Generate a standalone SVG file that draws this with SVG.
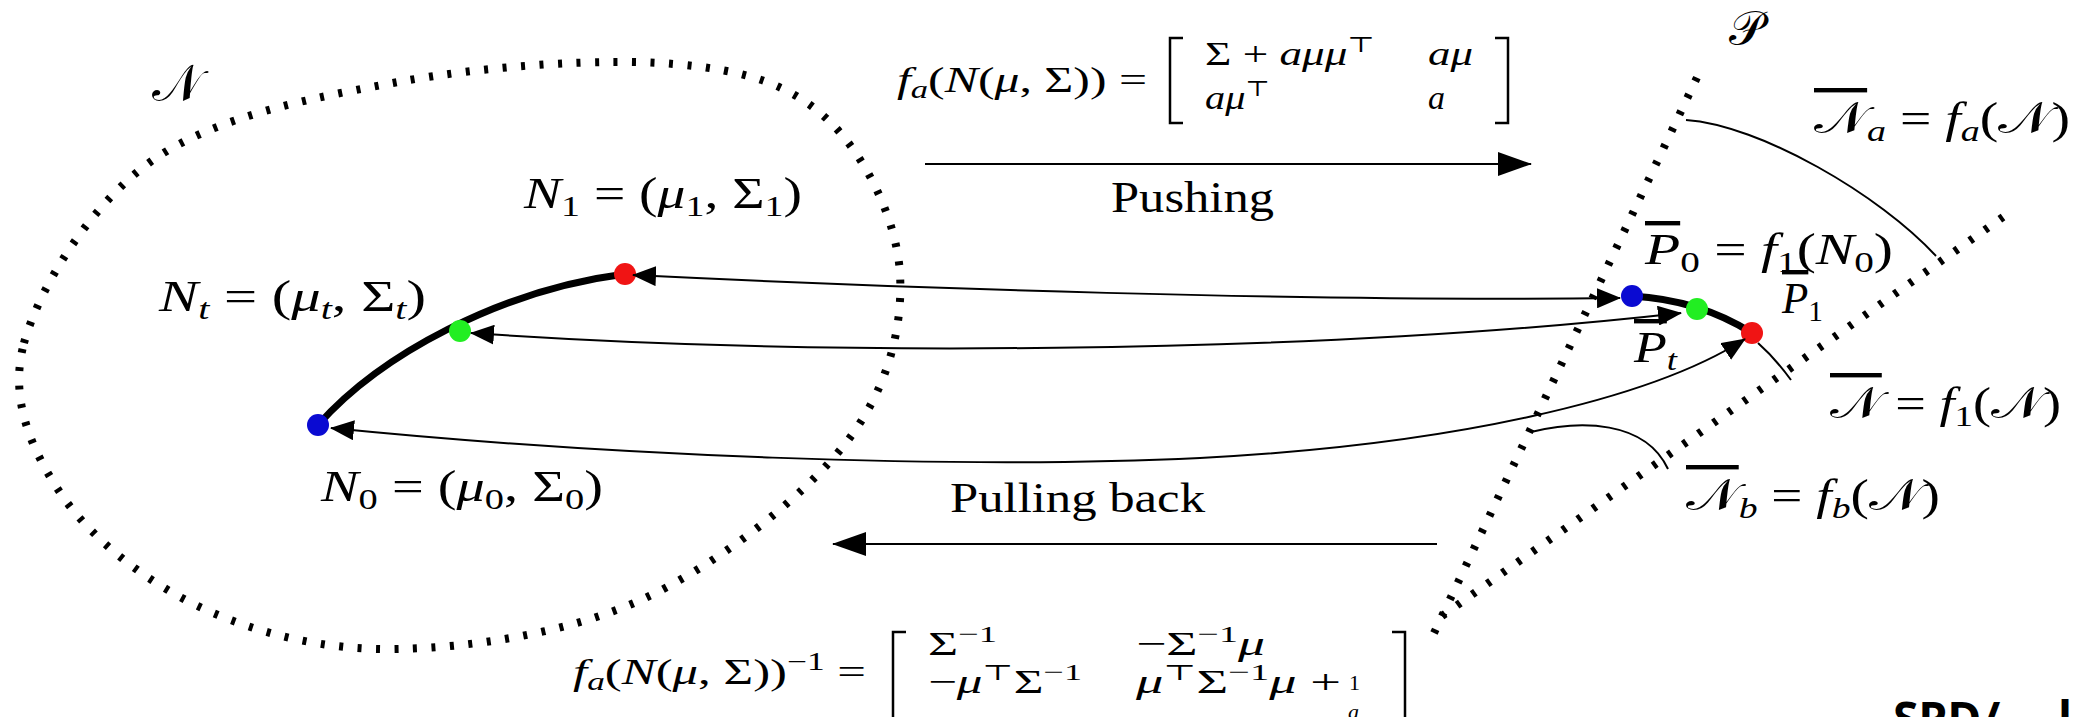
<svg xmlns="http://www.w3.org/2000/svg" width="2085" height="717" viewBox="0 0 2085 717">
<style>
.dl{fill:none;stroke:#000;stroke-width:8;stroke-dasharray:4 14.5}
.thin{fill:none;stroke:#000;stroke-width:2}
.thick{fill:none;stroke:#000;stroke-width:7;stroke-linecap:round}
.br{fill:none;stroke:#000;stroke-width:2.5}
.m{font-family:"Liberation Serif","DejaVu Serif",serif;fill:#000}
.i{font-style:italic}
.ol{text-decoration:overline}
.cal{font-family:"DejaVu Serif","DejaVu Sans","Noto Sans",serif;font-style:normal}
.sb{font-family:"Open Sans","Liberation Sans",sans-serif;font-weight:700;fill:#000}
</style>
<defs>
<marker id="ah" markerUnits="userSpaceOnUse" markerWidth="24" markerHeight="20" viewBox="0 0 24 20" refX="23" refY="10" orient="auto-start-reverse"><path d="M0,0 L24,10 L0,20 z" fill="#000"/></marker>
<marker id="ahb" markerUnits="userSpaceOnUse" markerWidth="34" markerHeight="24" viewBox="0 0 34 24" refX="33" refY="12" orient="auto"><path d="M0,0 L34,12 L0,24 z" fill="#000"/></marker>
</defs>
<rect width="2085" height="717" fill="#fff"/>

<g id="region-N">
<path class="dl" d="M24,343 C39.3,287.3 90.7,203.5 153,160 C215.3,116.5 311.2,98 398,82 C484.8,66 602.5,57.8 674,64 C745.5,70.2 789.3,84 827,119 C864.7,154 897,219.8 900,274 C903,328.2 887.8,389.8 845,444 C802.2,498.2 717.5,564.8 643,599 C568.5,633.2 471.5,647.5 398,649 C324.5,650.5 258.2,633.8 202,608 C145.8,582.2 90.7,538.2 61,494 C31.3,449.8 8.7,398.7 24,343 Z"/>
<text class="m cal" x="152" y="101" font-size="52">𝒩</text>
</g>

<g id="region-P">
<path class="dl" d="M1434,633 L1701,69"/>
<path class="dl" d="M1442,616 L2003,217"/>
<text class="m cal" x="1729" y="45" font-size="48">𝒫</text>
</g>

<g id="connectors">
<path class="thick" d="M318,425 C380,355 500,290 625,274"/>
<path class="thick" d="M1632,296 Q1700,300 1752,333"/>
<path class="thin" d="M925,164 L1531,164" marker-end="url(#ahb)"/>
<path class="thin" d="M1437,544 L833,544" marker-end="url(#ahb)"/>
<path class="thin" d="M1686,120 C1760,125 1880,195 1936,256"/>
<path class="thin" d="M1758,343 Q1775,358 1791,380"/>
<path class="thin" d="M1531,432 C1580,420 1645,420 1668,469"/>
</g>

<g id="N1">
<circle cx="625" cy="274" r="11" fill="#f01414"/>
<text class="m" x="524" y="208" font-size="44" textLength="278" lengthAdjust="spacingAndGlyphs"><tspan class="i">N</tspan><tspan font-size="30" dy="8">1</tspan><tspan dy="-8"> = (</tspan><tspan class="i">μ</tspan><tspan font-size="30" dy="8">1</tspan><tspan dy="-8">, Σ</tspan><tspan font-size="30" dy="8">1</tspan><tspan dy="-8">)</tspan></text>
</g>
<g id="Nt">
<circle cx="460" cy="331" r="11" fill="#22ee22"/>
<text class="m" x="159" y="311" font-size="44" textLength="267" lengthAdjust="spacingAndGlyphs"><tspan class="i">N</tspan><tspan class="i" font-size="30" dy="8">t</tspan><tspan dy="-8"> = (</tspan><tspan class="i">μ</tspan><tspan class="i" font-size="30" dy="8">t</tspan><tspan dy="-8">, Σ</tspan><tspan class="i" font-size="30" dy="8">t</tspan><tspan dy="-8">)</tspan></text>
</g>
<g id="N0">
<circle cx="318" cy="425" r="11" fill="#0a0ad2"/>
<text class="m" x="321" y="501" font-size="44" textLength="282" lengthAdjust="spacingAndGlyphs"><tspan class="i">N</tspan><tspan font-size="30" dy="8">0</tspan><tspan dy="-8"> = (</tspan><tspan class="i">μ</tspan><tspan font-size="30" dy="8">0</tspan><tspan dy="-8">, Σ</tspan><tspan font-size="30" dy="8">0</tspan><tspan dy="-8">)</tspan></text>
</g>

<g id="P0">
<circle cx="1632" cy="296" r="11" fill="#0a0ad2"/>
<text class="m" x="1645" y="264" font-size="44" textLength="248" lengthAdjust="spacingAndGlyphs"><tspan class="i ol">P</tspan><tspan font-size="30" dy="8">0</tspan><tspan dy="-8"> = </tspan><tspan class="i">f</tspan><tspan font-size="30" dy="8">1</tspan><tspan dy="-8">(</tspan><tspan class="i">N</tspan><tspan font-size="30" dy="8">0</tspan><tspan dy="-8">)</tspan></text>
</g>
<g id="Pt">
<circle cx="1697" cy="309" r="11" fill="#22ee22"/>
<text class="m" x="1634" y="362" font-size="44" textLength="43" lengthAdjust="spacingAndGlyphs"><tspan class="i ol">P</tspan><tspan class="i" font-size="30" dy="8">t</tspan></text>
</g>
<g id="P1">
<circle cx="1752" cy="333" r="11" fill="#f01414"/>
<text class="m" x="1782" y="313" font-size="44" textLength="41" lengthAdjust="spacingAndGlyphs"><tspan class="i ol">P</tspan><tspan font-size="30" dy="8">1</tspan></text>
</g>

<g id="arrows">
<path class="thin" d="M633,275 C900,288 1300,302 1620,298" marker-start="url(#ah)" marker-end="url(#ah)"/>
<path class="thin" d="M471,333 C800,356 1300,356 1681,313" marker-start="url(#ah)" marker-end="url(#ah)"/>
<path class="thin" d="M331,428 C600,455 950,470 1200,458 C1450,445 1650,400 1745,339" marker-start="url(#ah)" marker-end="url(#ah)"/>
</g>

<g id="Na-label">
<text class="m" x="1814" y="133" font-size="44" textLength="256" lengthAdjust="spacingAndGlyphs"><tspan class="cal ol">𝒩</tspan><tspan class="i" font-size="30" dy="8">a</tspan><tspan dy="-8"> = </tspan><tspan class="i">f</tspan><tspan class="i" font-size="30" dy="8">a</tspan><tspan dy="-8">(</tspan><tspan class="cal">𝒩</tspan>)</text>
</g>
<g id="Nbar-label">
<text class="m" x="1830" y="418" font-size="44" textLength="231" lengthAdjust="spacingAndGlyphs"><tspan class="cal ol">𝒩</tspan> = <tspan class="i">f</tspan><tspan font-size="30" dy="8">1</tspan><tspan dy="-8">(</tspan><tspan class="cal">𝒩</tspan>)</text>
</g>
<g id="Nb-label">
<text class="m" x="1686" y="510" font-size="44" textLength="254" lengthAdjust="spacingAndGlyphs"><tspan class="cal ol">𝒩</tspan><tspan class="i" font-size="30" dy="8">b</tspan><tspan dy="-8"> = </tspan><tspan class="i">f</tspan><tspan class="i" font-size="30" dy="8">b</tspan><tspan dy="-8">(</tspan><tspan class="cal">𝒩</tspan>)</text>
</g>

<g id="push">
<text class="m" x="897" y="92" font-size="36" textLength="250" lengthAdjust="spacingAndGlyphs"><tspan class="i">f</tspan><tspan class="i" font-size="25" dy="6">a</tspan><tspan dy="-6">(</tspan><tspan class="i">N</tspan>(<tspan class="i">μ</tspan>, Σ)) =</text>
<polyline class="br" points="1183,38 1170,38 1170,123 1183,123"/>
<text class="m" x="1205" y="65" font-size="34" textLength="170" lengthAdjust="spacingAndGlyphs">Σ + <tspan class="i">aμμ</tspan><tspan font-size="22" dy="-13">⊤</tspan></text>
<text class="m i" x="1428" y="65" font-size="34" textLength="45" lengthAdjust="spacingAndGlyphs">aμ</text>
<text class="m" x="1205" y="109" font-size="34" textLength="65" lengthAdjust="spacingAndGlyphs"><tspan class="i">aμ</tspan><tspan font-size="22" dy="-13">⊤</tspan></text>
<text class="m i" x="1428" y="109" font-size="34">a</text>
<polyline class="br" points="1495,38 1508,38 1508,123 1495,123"/>
<text class="m" x="1111" y="212" font-size="44" textLength="163" lengthAdjust="spacingAndGlyphs">Pushing</text>
</g>

<g id="pull">
<text class="m" x="950" y="512" font-size="42" textLength="255" lengthAdjust="spacingAndGlyphs">Pulling back</text>
<text class="m" x="573" y="684" font-size="36" textLength="293" lengthAdjust="spacingAndGlyphs"><tspan class="i">f</tspan><tspan class="i" font-size="25" dy="6">a</tspan><tspan dy="-6">(</tspan><tspan class="i">N</tspan>(<tspan class="i">μ</tspan>, Σ))<tspan font-size="25" dy="-14">−1</tspan><tspan dy="14"> =</tspan></text>
<polyline class="br" points="906,632 893,632 893,725 906,725"/>
<text class="m" x="928" y="655" font-size="34" textLength="69" lengthAdjust="spacingAndGlyphs">Σ<tspan font-size="24" dy="-13">−1</tspan></text>
<text class="m" x="1136" y="655" font-size="34" textLength="129" lengthAdjust="spacingAndGlyphs">−Σ<tspan font-size="24" dy="-13">−1</tspan><tspan class="i" dy="13">μ</tspan></text>
<text class="m" x="928" y="693" font-size="34" textLength="154" lengthAdjust="spacingAndGlyphs">−<tspan class="i">μ</tspan><tspan font-size="22" dy="-13">⊤</tspan><tspan dy="13">Σ</tspan><tspan font-size="24" dy="-13">−1</tspan></text>
<text class="m" x="1136" y="693" font-size="34" textLength="205" lengthAdjust="spacingAndGlyphs"><tspan class="i">μ</tspan><tspan font-size="22" dy="-13">⊤</tspan><tspan dy="13">Σ</tspan><tspan font-size="24" dy="-13">−1</tspan><tspan class="i" dy="13">μ</tspan> +</text>
<text class="m" x="1349" y="690" font-size="22">1</text>
<text class="m i" x="1348" y="719" font-size="22">a</text>
<polyline class="br" points="1392,632 1405,632 1405,725 1392,725"/>
</g>

<g id="footer">
<text class="sb" x="1893" y="735" font-size="46">SPD/<tspan x="2058">l</tspan></text>
</g>
</svg>
